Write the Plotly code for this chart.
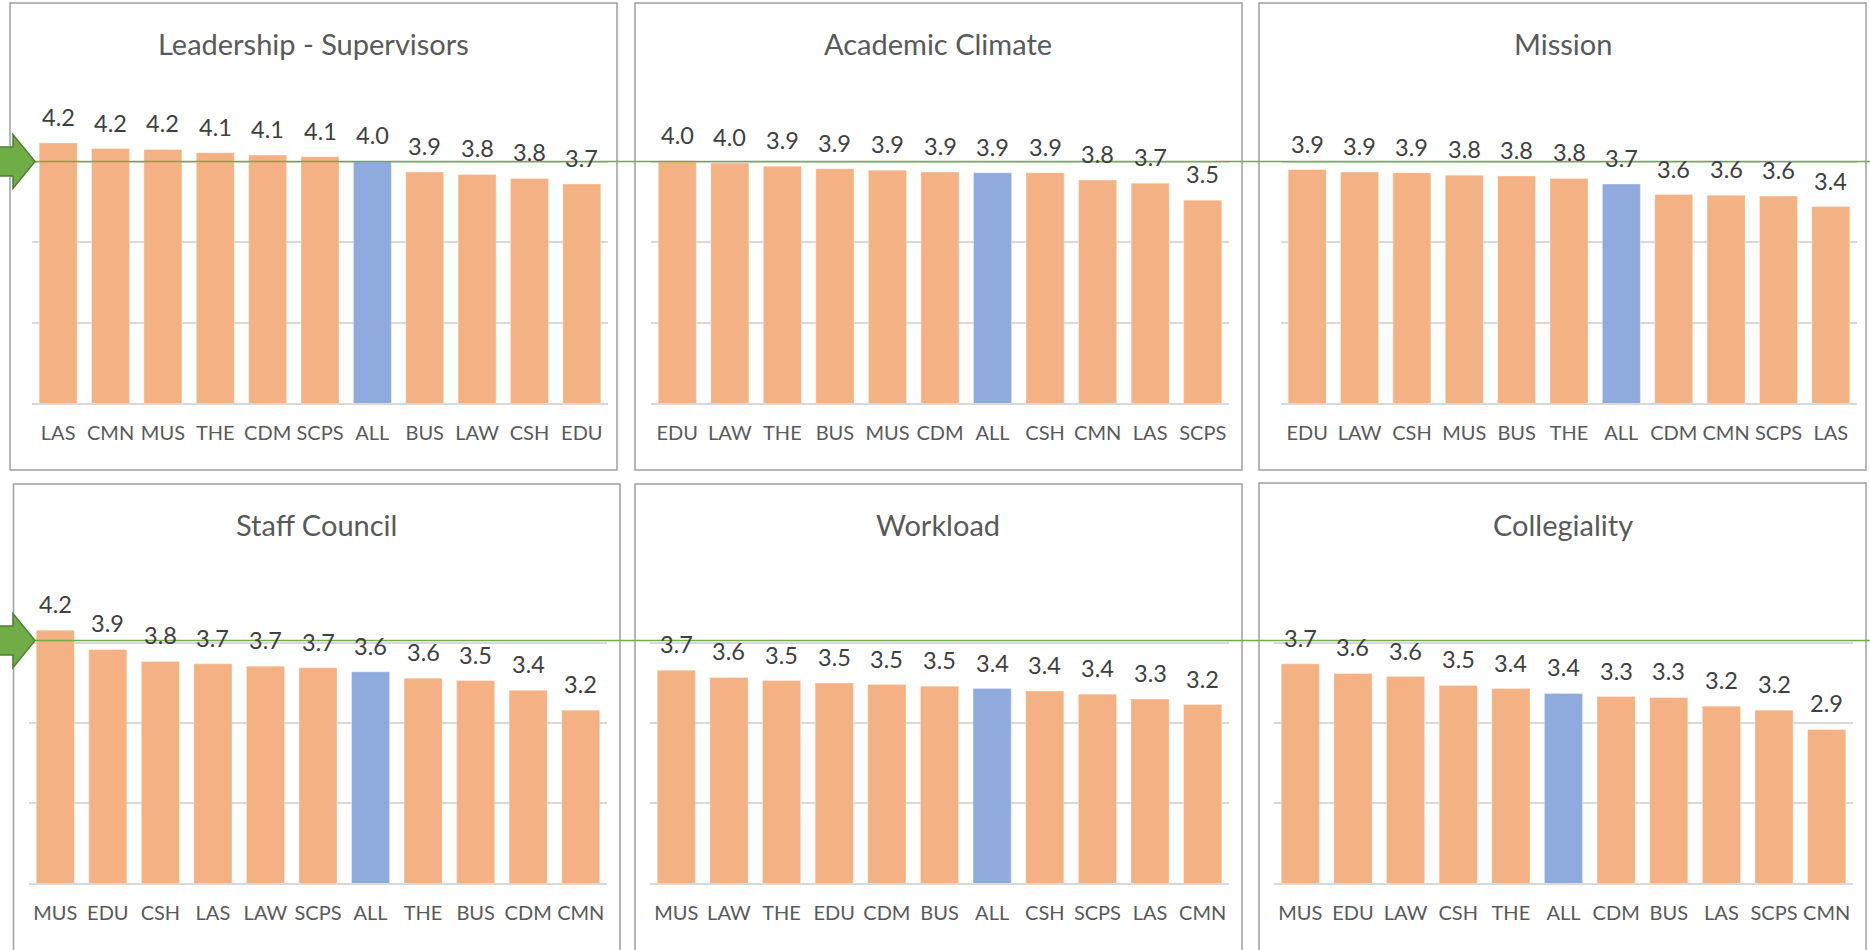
import plotly.graph_objects as go

# ---------------- data ----------------
titles = ["Leadership - Supervisors", "Academic Climate", "Mission",
          "Staff Council", "Workload", "Collegiality"]

cats_leadership = ["LAS", "CMN", "MUS", "THE", "CDM", "SCPS", "ALL", "BUS", "LAW", "CSH", "EDU"]
vals_leadership = [4.23, 4.16, 4.15, 4.11, 4.08, 4.06, 4.00, 3.87, 3.84, 3.79, 3.72]

cats_academic = ["EDU", "LAW", "THE", "BUS", "MUS", "CDM", "ALL", "CSH", "CMN", "LAS", "SCPS"]
vals_academic = [4.01, 3.98, 3.94, 3.91, 3.89, 3.87, 3.86, 3.86, 3.77, 3.73, 3.52]

cats_mission = ["EDU", "LAW", "CSH", "MUS", "BUS", "THE", "ALL", "CDM", "CMN", "SCPS", "LAS"]
vals_mission = [3.90, 3.87, 3.86, 3.83, 3.82, 3.79, 3.72, 3.59, 3.58, 3.57, 3.44]

cats_staff = ["MUS", "EDU", "CSH", "LAS", "LAW", "SCPS", "ALL", "THE", "BUS", "CDM", "CMN"]
vals_staff = [4.16, 3.92, 3.77, 3.74, 3.71, 3.69, 3.64, 3.56, 3.53, 3.41, 3.16]

cats_workload = ["MUS", "LAW", "THE", "EDU", "CDM", "BUS", "ALL", "CSH", "SCPS", "LAS", "CMN"]
vals_workload = [3.66, 3.57, 3.53, 3.50, 3.48, 3.46, 3.43, 3.40, 3.36, 3.30, 3.23]

cats_collegiality = ["MUS", "EDU", "LAW", "CSH", "THE", "ALL", "CDM", "BUS", "LAS", "SCPS", "CMN"]
vals_collegiality = [3.74, 3.62, 3.58, 3.47, 3.43, 3.37, 3.33, 3.32, 3.21, 3.16, 2.92]

y_ticks = [1, 2, 3, 4, 5]
benchmark_top = 4.0
benchmark_bottom = 4.03

panels = [
    (titles[0], cats_leadership, vals_leadership),
    (titles[1], cats_academic, vals_academic),
    (titles[2], cats_mission, vals_mission),
    (titles[3], cats_staff, vals_staff),
    (titles[4], cats_workload, vals_workload),
    (titles[5], cats_collegiality, vals_collegiality),
]

# ---------------- layout geometry (pixels) ----------------
W, H = 1870, 950
plot_boxes = [(32, 608, 81, 403), (651, 1229, 81, 403), (1281, 1857, 81, 403),
              (29, 607, 563, 883), (650, 1229, 563, 883), (1274, 1853, 563, 883)]
panel_boxes = [(10, 617, 3, 470), (635, 1242, 3, 470), (1259, 1866, 3, 470),
               (13.5, 620, 484, 970), (635, 1242, 484, 970), (1259, 1866, 483, 970)]
title_y = [43, 43, 43, 524, 524, 524]

ORANGE = "#F4B183"
BLUE = "#8FAADC"
GREEN = "#70AD47"
GREEN_DARK = "#507E32"
FONT = "Lato"

def px_x(v):
    return v / W

def px_y(v):
    return 1 - v / H

fig = go.Figure()
annotations = []
shapes = []
layout_axes = {}

for i, (title, cats, vals) in enumerate(panels):
    n = i + 1
    xname = "x" if n == 1 else f"x{n}"
    yname = "y" if n == 1 else f"y{n}"
    colors = [BLUE if c == "ALL" else ORANGE for c in cats]
    fig.add_trace(go.Bar(
        x=cats, y=vals, xaxis=xname, yaxis=yname,
        marker=dict(color=colors, line=dict(color="rgba(255,255,255,0.35)", width=1)),
        showlegend=False, hoverinfo="x+y",
    ))
    x0, x1, yt, yb = plot_boxes[i]
    layout_axes[f"xaxis{'' if n == 1 else n}"] = dict(
        domain=[px_x(x0), px_x(x1)], anchor=yname, type="category",
        showgrid=False, zeroline=False, showline=True, linecolor="#D9D9D9", linewidth=2,
        ticks="", ticklabelstandoff=11,
        tickfont=dict(family=FONT, size=20, color="#595959"), fixedrange=True,
    )
    layout_axes[f"yaxis{'' if n == 1 else n}"] = dict(
        domain=[px_y(yb), px_y(yt)], anchor=xname, range=[1, 5],
        tickvals=y_ticks, showticklabels=False, showgrid=True,
        gridcolor="#D9D9D9", gridwidth=1.5, zeroline=False, showline=False, fixedrange=True,
    )
    # data labels
    for c, v in zip(cats, vals):
        annotations.append(dict(
            x=c, y=v, xref=xname, yref=yname, text=f"{v:.1f}", showarrow=False,
            yanchor="bottom", xanchor="center", yshift=10,
            font=dict(family=FONT, size=23.5, color="#404040"),
        ))
    # panel title
    bx0, bx1, by0, by1 = panel_boxes[i]
    annotations.append(dict(
        x=px_x((bx0 + bx1) / 2), y=px_y(title_y[i]), xref="paper", yref="paper",
        text=title, showarrow=False, xanchor="center", yanchor="middle",
        font=dict(family=FONT, size=29, color="#595959"),
    ))
    # panel border
    shapes.append(dict(type="rect", xref="paper", yref="paper",
                       x0=px_x(bx0), x1=px_x(bx1), y0=px_y(by1), y1=px_y(by0),
                       line=dict(color="#A0A0A0", width=1.5), fillcolor="rgba(0,0,0,0)",
                       layer="below"))

# benchmark lines and arrows
arrow_path = "M -3,14.5 L 13,14.5 L 13,27 L 35,0 L 13,-27 L 13,-14.5 L -3,-14.5 Z"
for yname, bench in (("y", benchmark_top), ("y4", benchmark_bottom)):
    shapes.append(dict(type="line", xref="paper", yref=yname, x0=0, x1=1,
                       y0=bench, y1=bench, line=dict(color=GREEN, width=1.5), layer="above"))
    shapes.append(dict(type="path", xref="paper", yref=yname,
                       xsizemode="pixel", ysizemode="pixel", xanchor=0, yanchor=bench,
                       path=arrow_path, fillcolor=GREEN,
                       line=dict(color=GREEN_DARK, width=1.5), layer="above"))

fig.update_layout(
    width=W, height=H, margin=dict(l=0, r=0, t=0, b=0),
    paper_bgcolor="white", plot_bgcolor="rgba(0,0,0,0)",
    bargap=0.275, annotations=annotations, shapes=shapes,
    font=dict(family=FONT), **layout_axes,
)

fig.write_html("out.html", config={"displayModeBar": False},
               post_script="document.body.style.margin='0px';document.body.style.overflow='hidden';")
